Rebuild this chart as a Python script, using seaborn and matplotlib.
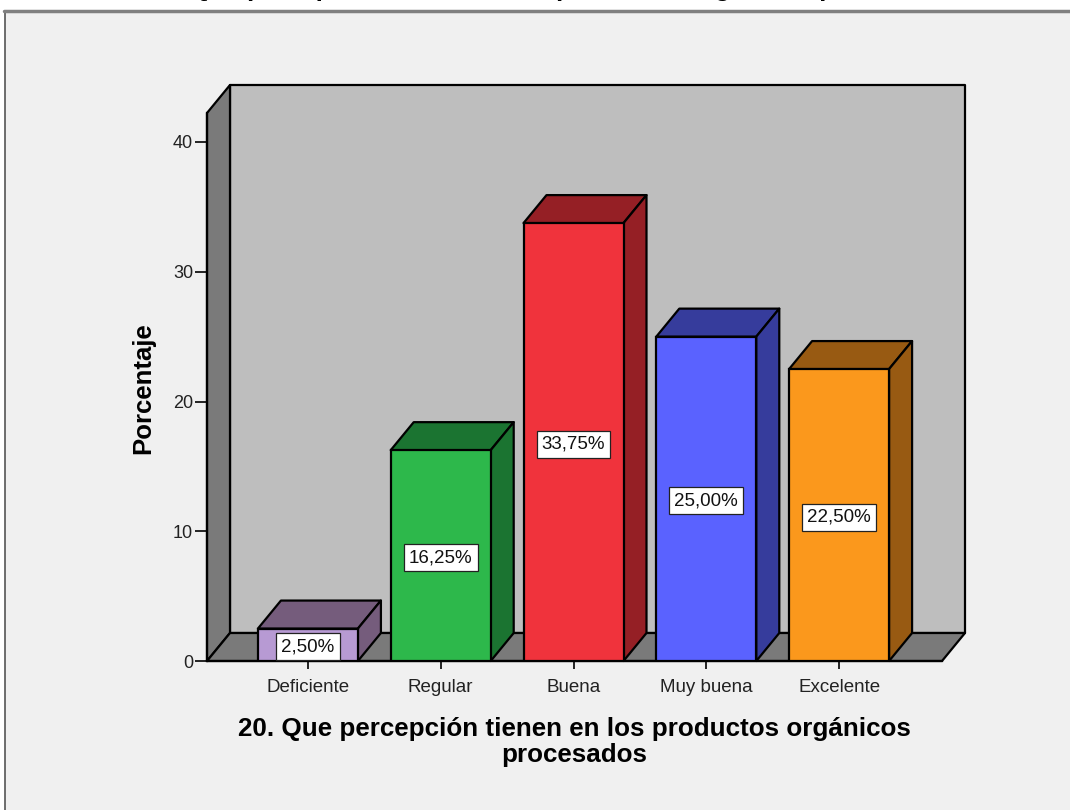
import matplotlib
matplotlib.use("Agg")
import matplotlib.pyplot as plt
import seaborn as sns
import pandas as pd
from matplotlib.patches import Polygon, Rectangle

# datos
categorias = ["Deficiente", "Regular", "Buena", "Muy buena", "Excelente"]
porcentajes = [2.50, 16.25, 33.75, 25.00, 22.50]
etiquetas = ["2,50%", "16,25%", "33,75%", "25,00%", "22,50%"]
colores = ["#B79AD3", "#2DB84B", "#F0333C", "#5A62FF", "#FB981C"]
colores_top = ["#755C7C", "#1B7431", "#951F25", "#363C9C", "#985A12"]
marcas_y = [0, 10, 20, 30, 40]
titulo = "20. Que percepción tienen en los productos orgánicos procesados"

sns.set_theme(style="white")
plt.rcParams['font.family'] = ['Liberation Sans', 'DejaVu Sans']

W, H = 1070, 810
fig = plt.figure(figsize=(W / 100, H / 100), dpi=100, facecolor="white")

# fondo gris del visor
fondo = Rectangle((5 / W, 0), 1 - 5 / W, 1 - 11 / H, transform=fig.transFigure,
                  facecolor="#F0F0F0", edgecolor="none", zorder=-5)
fig.add_artist(fondo)
fig.add_artist(plt.Line2D([4.5 / W, 4.5 / W], [0, 1 - 11 / H], color="#555555", lw=1.2, zorder=-4))
fig.add_artist(plt.Line2D([4 / W, 1], [1 - 11 / H, 1 - 11 / H], color="#808080", lw=2.5, zorder=-4))

ax = fig.add_axes([207 / W, 1 - 661 / H, (942 - 207) / W, (661 - 113) / H], zorder=2)
ax.patch.set_alpha(0)

df = pd.DataFrame({"categoria": categorias, "porcentaje": porcentajes})
sns.barplot(data=df, x="categoria", y="porcentaje", hue="categoria", palette=colores,
            order=categorias, legend=False, width=0.753, saturation=1,
            edgecolor="black", linewidth=1.6, ax=ax, zorder=4)

ax.set_xlim(-0.76, 4.775)
ax.set_ylim(0, 548 / 12.975)

# profundidad 3D en unidades de datos
dx = 23 / 132.8
dy = 28 / 12.975
x0, x1 = ax.get_xlim()
y1 = ax.get_ylim()[1]
muro = dict(edgecolor="black", linewidth=1.6, clip_on=False, joinstyle="round")
ax.add_patch(Polygon([(x0 + dx, dy), (x1 + dx, dy), (x1 + dx, y1 + dy), (x0 + dx, y1 + dy)],
                     facecolor="#BEBEBE", zorder=1, **muro))
ax.add_patch(Polygon([(x0, 0), (x0 + dx, dy), (x0 + dx, y1 + dy), (x0, y1)],
                     facecolor="#7A7A7A", zorder=2, **muro))
ax.add_patch(Polygon([(x0, 0), (x1, 0), (x1 + dx, dy), (x0 + dx, dy)],
                     facecolor="#7A7A7A", zorder=2, **muro))

for barra, col, txt in zip(ax.patches[:5], colores_top, etiquetas):
    a = barra.get_x()
    b = a + barra.get_width()
    h = barra.get_height()
    ax.add_patch(Polygon([(a, h), (b, h), (b + dx, h + dy), (a + dx, h + dy)],
                         facecolor=col, zorder=3, **muro))
    ax.add_patch(Polygon([(b, 0), (b + dx, dy), (b + dx, h + dy), (b, h)],
                         facecolor=col, zorder=3, **muro))
    ax.annotate(txt, ((a + b) / 2, h / 2), xytext=(0, -1.5), textcoords="offset points",
                ha="center", va="center", fontsize=13.5, color="#111111", zorder=6,
                bbox=dict(boxstyle="square,pad=0.27", facecolor="white", edgecolor="#222222", linewidth=0.9))

sns.despine(ax=ax, top=True, right=True, left=False, bottom=False)
for lado in ["left", "bottom"]:
    ax.spines[lado].set_color("black")
    ax.spines[lado].set_linewidth(1.6)
    ax.spines[lado].set_zorder(3)

ax.set_yticks(marcas_y)
ax.set_yticklabels([str(v) for v in marcas_y])
ax.tick_params(axis="y", left=True, length=9, width=1.2, color="black", labelsize=13, labelcolor="#222222", pad=1)
ax.tick_params(axis="x", bottom=True, length=6, width=1.2, color="black", labelsize=13.5, labelcolor="#222222", pad=7)

ax.set_xlabel("")
ax.set_ylabel("")
fig.text(143 / W, 1 - 388 / H, "Porcentaje", rotation=90, ha="center", va="center",
         fontsize=18.5, fontweight="bold", color="black")
fig.text(574 / W, 1 - 742 / H, "20. Que percepción tienen en los productos orgánicos\nprocesados",
         ha="center", va="center", fontsize=18.7, fontweight="bold", color="black", linespacing=1.12)
# titulo cortado por el borde superior de la captura
fig.text(555 / W, 1 + 4 / H, titulo, ha="center", va="baseline", fontsize=18.5, fontweight="bold", color="black")

fig.savefig("out.png", dpi=100, facecolor=fig.get_facecolor())
